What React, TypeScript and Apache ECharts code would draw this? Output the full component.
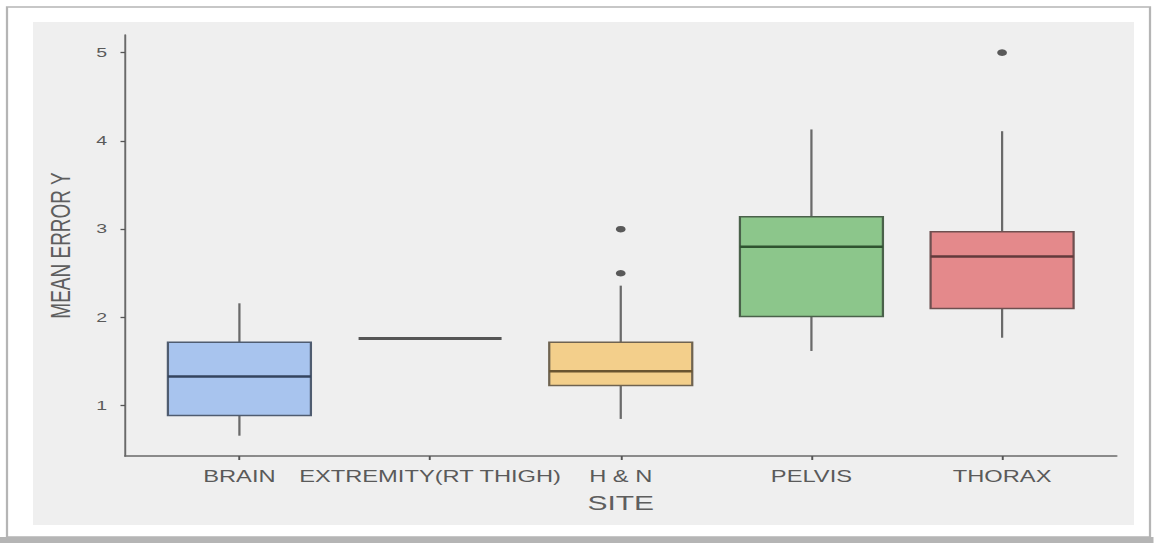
import React, { useEffect, useRef } from "react";
import * as echarts from "echarts";

// ---- data ----
const categories = ["BRAIN", "EXTREMITY(RT THIGH)", "H & N", "PELVIS", "THORAX"];
const whiskerLow = [0.66, 1.76, 0.85, 1.62, 1.77];
const q1Values = [0.89, 1.76, 1.23, 2.01, 2.1];
const medianValues = [1.33, 1.76, 1.39, 2.8, 2.69];
const q3Values = [1.72, 1.76, 1.72, 3.14, 2.97];
const whiskerHigh = [2.16, 1.76, 2.36, 4.13, 4.11];
const outliers: [number, number][] = [
  [3, 3.0],
  [3, 2.5],
  [5, 5.0],
];
const yTicks = [1, 2, 3, 4, 5];

// ---- style ----
const fills = ["#a8c4ee", "#a8c4ee", "#f3cf8b", "#8cc68b", "#e4898b"];
const medianColors = ["#34445e", "#555555", "#6a5530", "#2f5330", "#623a3b"];
const borderColors = ["#4f5c70", "#5a5a5a", "#6f6350", "#4a614a", "#6e5050"];

const W = 1154;
const H = 543;
const S = 1.5;
const W0 = W / S;
const ux = (px: number) => px / S;

export default function App() {
  const ref = useRef<HTMLDivElement>(null);
  useEffect(() => {
    if (!ref.current) return;
    const chart = echarts.init(ref.current, undefined, { renderer: "svg" });
    const boxData = categories.map((_, i) => [
      i + 1,
      whiskerLow[i],
      q1Values[i],
      medianValues[i],
      q3Values[i],
      whiskerHigh[i],
    ]);
    const font = "'Liberation Sans', Arial, sans-serif";
    chart.setOption({
      animation: false,
      graphic: [
        {
          type: "rect",
          silent: true,
          z: -10,
          shape: { x: 0, y: 537, width: W0, height: 6 },
          style: { fill: "#b5b5b5" },
        },
        {
          type: "rect",
          silent: true,
          z: -9,
          shape: { x: ux(7), y: 7, width: ux(1143), height: 530 },
          style: { fill: "#ffffff", stroke: "#b5b5b5", lineWidth: 1.5 },
        },
        {
          type: "rect",
          silent: true,
          z: -8,
          shape: { x: ux(33), y: 22, width: ux(1101), height: 503 },
          style: { fill: "#efefef" },
        },
      ],
      grid: {
        left: ux(125),
        right: ux(1154 - 1117),
        top: 35,
        bottom: 543 - 456,
        containLabel: false,
      },
      xAxis: {
        type: "value",
        min: 0.4,
        max: 5.6,
        name: "SITE",
        nameLocation: "middle",
        nameGap: 37,
        nameTextStyle: { fontSize: 20, color: "#5e5e5e", fontFamily: font },
        splitLine: { show: false },
        axisLine: { show: true, lineStyle: { color: "#6a6a6a", width: 1.5 } },
        axisTick: {
          show: true,
          length: 4,
          customValues: [1, 2, 3, 4, 5],
          lineStyle: { color: "#555", width: 1.3 },
        },
        axisLabel: {
          customValues: [1, 2, 3, 4, 5],
          margin: 13,
          fontSize: 15.8,
          color: "#5a5a5a",
          fontFamily: font,
          formatter: (v: number) => categories[Math.round(v) - 1] ?? "",
        },
      },
      yAxis: {
        type: "value",
        min: 0.43,
        max: 5.2,
        name: "MEAN ERROR Y",
        nameLocation: "middle",
        nameGap: 34,
        nameTextStyle: { fontSize: 19, color: "#5e5e5e", fontFamily: font },
        splitLine: { show: false },
        axisLine: { show: true, lineStyle: { color: "#6a6a6a", width: 1.3 } },
        axisTick: {
          show: true,
          length: 3,
          customValues: yTicks,
          lineStyle: { color: "#555", width: 1.3 },
        },
        axisLabel: {
          customValues: yTicks,
          margin: 12,
          fontSize: 13,
          color: "#5a5a5a",
          fontFamily: font,
        },
      },
      series: [
        {
          type: "custom",
          data: boxData,
          encode: { x: 0, y: [1, 2, 3, 4, 5] },
          renderItem: (params: any, api: any) => {
            const i = params.dataIndex;
            const x = api.value(0);
            const pLo = api.coord([x, api.value(1)]);
            const pQ1 = api.coord([x, api.value(2)]);
            const pMed = api.coord([x, api.value(3)]);
            const pQ3 = api.coord([x, api.value(4)]);
            const pHi = api.coord([x, api.value(5)]);
            const w = api.size([0.75, 0])[0];
            const isFlat = Math.abs(pQ1[1] - pQ3[1]) < 0.5;
            const children: any[] = [];
            if (!isFlat) {
              children.push(
                {
                  type: "line",
                  shape: { x1: pLo[0], y1: pLo[1], x2: pQ1[0], y2: pQ1[1] },
                  style: { stroke: "#6a6a6a", lineWidth: 1.5 },
                },
                {
                  type: "line",
                  shape: { x1: pHi[0], y1: pHi[1], x2: pQ3[0], y2: pQ3[1] },
                  style: { stroke: "#6a6a6a", lineWidth: 1.5 },
                },
                {
                  type: "rect",
                  shape: {
                    x: pQ3[0] - w / 2,
                    y: pQ3[1],
                    width: w,
                    height: pQ1[1] - pQ3[1],
                  },
                  style: {
                    fill: fills[i],
                    stroke: borderColors[i],
                    lineWidth: 1.5,
                  },
                }
              );
            }
            children.push({
              type: "line",
              shape: {
                x1: pMed[0] - w / 2,
                y1: pMed[1],
                x2: pMed[0] + w / 2,
                y2: pMed[1],
              },
              style: { stroke: medianColors[i], lineWidth: isFlat ? 3 : 2.5 },
            });
            return { type: "group", children };
          },
        },
        {
          type: "scatter",
          data: outliers,
          symbol: "circle",
          symbolSize: 6.5,
          itemStyle: { color: "#333333" },
        },
      ],
    });
    return () => chart.dispose();
  }, []);

  return (
    <div
      style={{
        position: "fixed",
        left: 0,
        top: 0,
        width: W,
        height: H,
        overflow: "hidden",
        background: "#ffffff",
      }}
    >
      <div
        ref={ref}
        style={{
          width: W0,
          height: H,
          transform: `scaleX(${S})`,
          transformOrigin: "0 0",
        }}
      />
    </div>
  );
}
